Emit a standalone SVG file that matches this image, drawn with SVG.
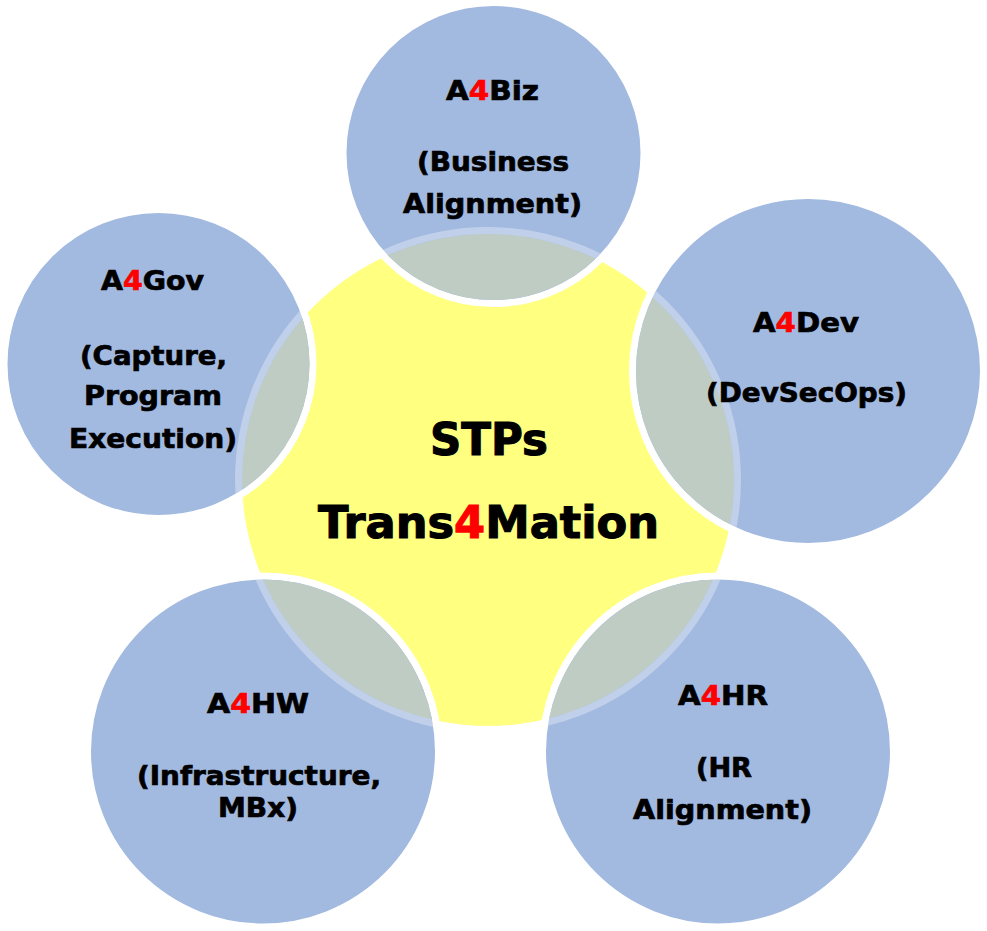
<svg xmlns="http://www.w3.org/2000/svg" width="987" height="931" viewBox="0 0 987 931">
<style>
.yel{fill:#FFFF80}
.blue{fill:#A2B9E0;stroke:#FFFFFF;stroke-width:7}
.lens{fill:#BECCC4}
.band{fill:none;stroke:#FFFFFF;stroke-opacity:0.32;stroke-width:7}
text{font-family:"DejaVu Sans","Liberation Sans",sans-serif;font-weight:bold;fill:#000000;stroke:#000000;stroke-width:0.7;text-anchor:middle}
.s{font-size:27px}
.L{font-size:44px;stroke-width:1.1}
.r{fill:#FF0000;stroke:#FF0000}
</style>
<defs>
<clipPath id="cy"><circle cx="488" cy="480" r="246"/></clipPath>
<clipPath id="cBiz"><circle cx="493.5" cy="153" r="147"/></clipPath>
<clipPath id="cGov"><circle cx="158.5" cy="364" r="151"/></clipPath>
<clipPath id="cDev"><circle cx="808" cy="371" r="172"/></clipPath>
<clipPath id="cHW"><circle cx="263" cy="751.5" r="172"/></clipPath>
<clipPath id="cHR"><circle cx="718" cy="751.5" r="172"/></clipPath>
</defs>
<g id="connectors"></g>
<g id="center">
<circle class="yel" cx="488" cy="480" r="246"/>
</g>
<g id="a4biz">
<circle class="blue" cx="493.5" cy="153" r="150.5"/>
<circle class="lens" cx="493.5" cy="153" r="147" clip-path="url(#cy)"/>
<circle class="band" cx="488" cy="480" r="249.5" clip-path="url(#cBiz)"/>
<text class="s" x="492.5" y="100" textLength="93" lengthAdjust="spacingAndGlyphs">A<tspan class="r">4</tspan>Biz</text>
<text class="s" x="493" y="171" textLength="152" lengthAdjust="spacingAndGlyphs">(Business</text>
<text class="s" x="492.5" y="213" textLength="179" lengthAdjust="spacingAndGlyphs">Alignment)</text>
</g>
<g id="a4gov">
<circle class="blue" cx="158.5" cy="364" r="154.5"/>
<circle class="lens" cx="158.5" cy="364" r="151" clip-path="url(#cy)"/>
<circle class="band" cx="488" cy="480" r="249.5" clip-path="url(#cGov)"/>
<text class="s" x="152.5" y="290" textLength="103" lengthAdjust="spacingAndGlyphs">A<tspan class="r">4</tspan>Gov</text>
<text class="s" x="153.5" y="365" textLength="147" lengthAdjust="spacingAndGlyphs">(Capture,</text>
<text class="s" x="153" y="405" textLength="138" lengthAdjust="spacingAndGlyphs">Program</text>
<text class="s" x="153" y="448" textLength="168" lengthAdjust="spacingAndGlyphs">Execution)</text>
</g>
<g id="a4dev">
<circle class="blue" cx="808" cy="371" r="175.5"/>
<circle class="lens" cx="808" cy="371" r="172" clip-path="url(#cy)"/>
<circle class="band" cx="488" cy="480" r="249.5" clip-path="url(#cDev)"/>
<text class="s" x="806" y="332" textLength="106" lengthAdjust="spacingAndGlyphs">A<tspan class="r">4</tspan>Dev</text>
<text class="s" x="806.5" y="402" textLength="201" lengthAdjust="spacingAndGlyphs">(DevSecOps)</text>
</g>
<g id="a4hw">
<circle class="blue" cx="263" cy="751.5" r="175.5"/>
<circle class="lens" cx="263" cy="751.5" r="172" clip-path="url(#cy)"/>
<circle class="band" cx="488" cy="480" r="249.5" clip-path="url(#cHW)"/>
<text class="s" x="258" y="713" textLength="102" lengthAdjust="spacingAndGlyphs">A<tspan class="r">4</tspan>HW</text>
<text class="s" x="259" y="785" textLength="244" lengthAdjust="spacingAndGlyphs">(Infrastructure,</text>
<text class="s" x="258" y="817" textLength="80" lengthAdjust="spacingAndGlyphs">MBx)</text>
</g>
<g id="a4hr">
<circle class="blue" cx="718" cy="751.5" r="175.5"/>
<circle class="lens" cx="718" cy="751.5" r="172" clip-path="url(#cy)"/>
<circle class="band" cx="488" cy="480" r="249.5" clip-path="url(#cHR)"/>
<text class="s" x="723" y="705" textLength="90" lengthAdjust="spacingAndGlyphs">A<tspan class="r">4</tspan>HR</text>
<text class="s" x="724" y="777" textLength="56" lengthAdjust="spacingAndGlyphs">(HR</text>
<text class="s" x="722.5" y="819" textLength="179" lengthAdjust="spacingAndGlyphs">Alignment)</text>
</g>
<g id="center-label">
<text class="L" x="489" y="455" textLength="118" lengthAdjust="spacingAndGlyphs">STPs</text>
<text class="L" x="488.5" y="538" textLength="341" lengthAdjust="spacingAndGlyphs">Trans<tspan class="r">4</tspan>Mation</text>
</g>
</svg>
